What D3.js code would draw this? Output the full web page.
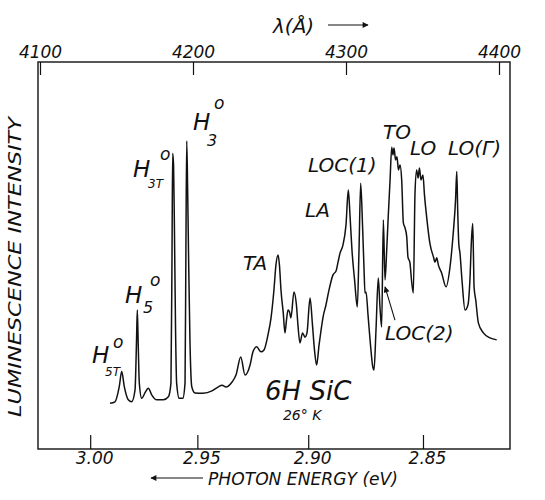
<!DOCTYPE html>
<html>
<head>
<meta charset="utf-8">
<script src="https://cdn.jsdelivr.net/npm/d3@7"></script>
<style>
  body { margin: 0; background: #fff; }
  text { font-family: "DejaVu Sans", sans-serif; font-style: oblique; fill: #111; }
</style>
</head>
<body>
<script>
// spectrum: wavelength (Angstrom) and intensity (arb. units, 0 = bottom of frame)
const wavelength = [4145.8, 4149.0, 4151.8, 4153.4, 4155.1, 4157.7, 4159.9, 4162.1, 4163.1, 4163.6,
  4164.2, 4164.9, 4166.5, 4168.6, 4170.8, 4173.0, 4176.3, 4180.6, 4183.9, 4185.6,
  4186.3, 4186.7, 4187.3, 4187.8, 4188.6, 4189.3, 4191.0, 4193.3, 4194.8, 4195.4,
  4195.9, 4196.5, 4197.2, 4198.0, 4199.2, 4201.3, 4206.5, 4212.4, 4216.3, 4219.0,
  4221.6, 4225.5, 4228.1, 4231.2, 4234.0, 4237.3, 4239.2, 4241.6, 4244.4, 4246.4,
  4249.0, 4251.0, 4252.9, 4254.2, 4255.6, 4256.5, 4257.5, 4259.0, 4260.1, 4261.1,
  4262.1, 4263.1, 4264.0, 4266.0, 4267.6, 4268.6, 4269.9, 4271.6, 4273.2, 4274.5,
  4276.5, 4278.1, 4279.4, 4280.8, 4282.4, 4283.7, 4285.0, 4286.9, 4288.9, 4291.5,
  4293.5, 4294.8, 4296.1, 4298.0, 4300.0, 4301.5, 4302.6, 4303.9, 4305.6, 4307.4,
  4308.5, 4309.6, 4310.8, 4311.8, 4312.4, 4313.1, 4314.4, 4316.0, 4317.5, 4318.3,
  4319.6, 4321.1, 4322.2, 4323.3, 4324.4, 4325.5, 4326.6, 4327.6, 4328.8, 4329.9,
  4330.7, 4331.4, 4332.4, 4333.3, 4334.3, 4335.3, 4336.4, 4337.5, 4338.6, 4339.7,
  4340.5, 4341.8, 4342.8, 4344.0, 4345.1, 4346.2, 4347.1, 4348.0, 4349.0, 4350.3,
  4351.3, 4352.7, 4354.9, 4357.1, 4358.2, 4359.3, 4360.4, 4362.5, 4365.4, 4368.0,
  4370.1, 4371.6, 4372.4, 4373.0, 4373.7, 4374.5, 4375.8, 4377.8, 4379.7, 4381.0,
  4382.0, 4382.8, 4383.3, 4383.7, 4384.8, 4386.5, 4389.8, 4394.1, 4398.5];

const intensity = [11.8, 12.2, 16.1, 20.0, 16.1, 12.7, 12.2, 15.2, 28.2, 35.9,
  26.9, 17.1, 13.1, 14.5, 15.7, 14.0, 12.7, 12.7, 13.5, 17.1,
  51.4, 76.4, 73.4, 59.2, 30.7, 17.1, 13.1, 13.1, 17.1, 54.0,
  79.6, 67.2, 47.1, 28.2, 16.1, 14.5, 14.4, 15.0, 16.0, 16.5,
  16.0, 17.3, 19.1, 23.8, 19.1, 21.7, 25.1, 26.4, 25.1, 25.6,
  29.5, 33.9, 41.1, 47.5, 50.1, 47.5, 41.1, 35.1, 30.0, 33.3,
  35.9, 35.4, 33.9, 40.6, 37.2, 32.0, 27.4, 30.0, 28.9, 30.0,
  39.0, 32.0, 25.6, 21.7, 26.9, 30.7, 34.1, 37.2, 41.1, 45.0,
  46.0, 48.3, 50.6, 52.7, 57.9, 66.9, 60.5, 51.4, 43.7, 36.7,
  51.4, 68.7, 57.9, 46.3, 40.3, 40.6, 34.6, 26.9, 21.2, 20.4,
  30.7, 44.2, 36.7, 31.5, 59.2, 43.7, 51.4, 60.0, 69.5, 78.0,
  76.0, 77.8, 74.7, 75.5, 72.1, 73.4, 69.5, 58.4, 57.1, 54.8,
  49.6, 48.1, 43.7, 40.3, 66.1, 72.1, 70.0, 72.6, 69.5, 70.8,
  65.6, 60.0, 53.0, 49.7, 48.3, 49.4, 47.5, 45.5, 41.9, 47.1,
  55.8, 64.3, 71.7, 61.8, 53.2, 50.6, 43.7, 35.9, 37.2, 43.7,
  54.0, 58.3, 50.1, 41.9, 38.5, 32.6, 30.0, 28.7, 28.2];

const wavelengthTicks = [4100, 4200, 4300, 4400];
const energyTicks = [3.00, 2.95, 2.90, 2.85];

// simple labels, anchored at [wavelength, intensity] (left end of baseline)
const labelText = ["TA", "LA", "LOC(1)", "TO", "LO", "LO(\u0393)", "LOC(2)"];
const labelLam = [4232.7, 4273.2, 4275.2, 4324.2, 4341.8, 4366.7, 4325.5];
const labelVal = [46.3, 59.9, 71.6, 80.1, 76.0, 76.0, 28.2];

// exciton lines H with sub/superscripts
const excitonSub = ["5T", "5", "3T", "3"];
const excitonLam = [4134.0, 4155.6, 4160.8, 4200.0];
const excitonVal = [22.2, 37.7, 70.3, 82.4];

const HC = 12398.4; // eV*Angstrom

const svg = d3.select("body").append("svg")
  .attr("width", 545)
  .attr("height", 500);

const x = d3.scaleLinear().domain([4100, 4400]).range([40, 499]);
const y = d3.scaleLinear().domain([0, 100]).range([449, 62]);

// frame
svg.append("rect")
  .attr("x", 38).attr("y", 62)
  .attr("width", 472).attr("height", 387)
  .attr("fill", "none").attr("stroke", "#111").attr("stroke-width", 1.4);

// top axis: wavelength
const topAxis = svg.append("g")
  .attr("transform", "translate(0,62)")
  .call(d3.axisTop(x).tickValues(wavelengthTicks).tickSize(-13).tickPadding(4).tickFormat(d3.format("d")));
topAxis.select(".domain").remove();

// bottom axis: photon energy, placed through the wavelength scale
const bottomAxis = svg.append("g")
  .attr("transform", "translate(0,449)")
  .call(d3.axisBottom(x)
    .tickValues(energyTicks.map(e => HC / e))
    .tickSize(-14).tickPadding(3)
    .tickFormat(l => d3.format(".2f")(HC / l)));
bottomAxis.select(".domain").remove();

svg.selectAll(".tick line").attr("stroke", "#111").attr("stroke-width", 1.2);
svg.selectAll(".tick text")
  .attr("font-family", "DejaVu Sans").attr("font-style", "oblique")
  .attr("font-size", 17).attr("fill", "#111");
bottomAxis.selectAll(".tick text").attr("dx", 4);

// arrow marker
svg.append("defs").append("marker")
  .attr("id", "arrow")
  .attr("viewBox", "0 0 10 10")
  .attr("refX", 9).attr("refY", 5)
  .attr("markerWidth", 9).attr("markerHeight", 6)
  .attr("markerUnits", "userSpaceOnUse")
  .attr("orient", "auto")
  .append("path").attr("d", "M0,0L10,5L0,10z").attr("fill", "#111");

// axis titles
svg.append("text").attr("x", 273).attr("y", 33).attr("font-size", 20).text("\u03bb(\u00c5)");
svg.append("line").attr("x1", 328).attr("y1", 25).attr("x2", 368).attr("y2", 25)
  .attr("stroke", "#111").attr("stroke-width", 1.2).attr("marker-end", "url(#arrow)");

svg.append("text").attr("x", 208).attr("y", 485).attr("font-size", 17)
  .attr("textLength", 190).attr("lengthAdjust", "spacingAndGlyphs")
  .text("PHOTON ENERGY (eV)");
svg.append("line").attr("x1", 203).attr("y1", 478).attr("x2", 151).attr("y2", 478)
  .attr("stroke", "#111").attr("stroke-width", 1.2).attr("marker-end", "url(#arrow)");

svg.append("text")
  .attr("transform", "translate(21,267) rotate(-90)")
  .attr("text-anchor", "middle").attr("font-size", 17)
  .attr("textLength", 300).attr("lengthAdjust", "spacingAndGlyphs")
  .text("LUMINESCENCE INTENSITY");

// spectrum
const spectrum = d3.zip(wavelength, intensity).map(([l, v]) => ({ lambda: l, value: v }));
const line = d3.line()
  .x(d => x(d.lambda))
  .y(d => y(d.value))
  .curve(d3.curveMonotoneX);

svg.append("path")
  .datum(spectrum)
  .attr("d", line)
  .attr("fill", "none")
  .attr("stroke", "#111")
  .attr("stroke-width", 1.5)
  .attr("stroke-linejoin", "round");

// peak labels
labelText.forEach((t, i) => {
  svg.append("text")
    .attr("x", x(labelLam[i]))
    .attr("y", y(labelVal[i]))
    .attr("font-size", 20)
    .text(t);
});

// exciton labels H_n^0
const supOffset = [[21, -15], [25, -17], [27, -17], [21, -21]];
const subOffset = [[13, 13], [18, 10], [15, 11], [14, 16]];
excitonSub.forEach((s, i) => {
  const px = x(excitonLam[i]), py = y(excitonVal[i]);
  svg.append("text").attr("x", px).attr("y", py).attr("font-size", 23).text("H");
  svg.append("text").attr("x", px + supOffset[i][0]).attr("y", py + supOffset[i][1])
    .attr("font-size", 17).text("o");
  svg.append("text").attr("x", px + subOffset[i][0]).attr("y", py + subOffset[i][1])
    .attr("font-size", s.length > 1 ? 12 : 16).text(s);
});

// LOC(2) leader
svg.append("line")
  .attr("x1", x(4332.0)).attr("y1", y(33.3))
  .attr("x2", x(4325.5)).attr("y2", y(41.9))
  .attr("stroke", "#111").attr("stroke-width", 1.1).attr("marker-end", "url(#arrow)");

// sample annotation
svg.append("text").attr("x", x(4247.1)).attr("y", y(12.7)).attr("font-size", 26).text("6H SiC");
svg.append("text").attr("x", x(4258.8)).attr("y", y(7.5)).attr("font-size", 14).text("26\u00b0 K");
</script>
</body>
</html>
